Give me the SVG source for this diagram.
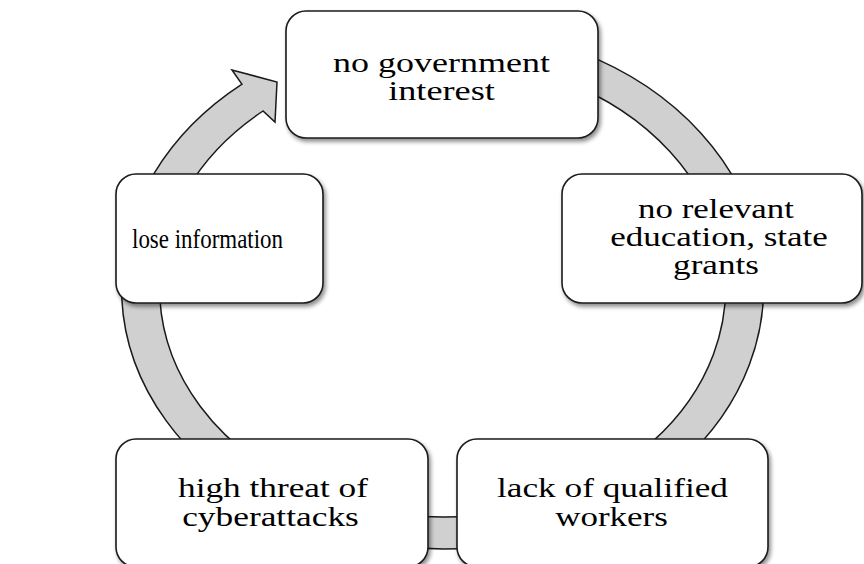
<svg xmlns="http://www.w3.org/2000/svg" width="864" height="564" viewBox="0 0 864 564">
<style>
.box{fill:#ffffff;stroke:#1a1a1a;stroke-width:1.6;filter:url(#sh)}
.ring{fill:#d0d0d0;stroke:#1a1a1a;stroke-width:1.5;stroke-linejoin:miter}
.lbl{font-family:"Liberation Serif","Times New Roman",serif;font-size:27px;fill:#000;text-anchor:middle}
</style>
<defs>
<filter id="sh" x="-10%" y="-10%" width="125%" height="130%">
<feDropShadow dx="2" dy="3" stdDeviation="2" flood-color="#000" flood-opacity="0.45"/>
</filter>
</defs>
<rect width="864" height="564" fill="#ffffff"/>
<g id="connectors">
<path class="ring" d="M 442.5 27 A 321 261 0 1 1 242 84.2 L 232 70 L 277 82 L 275 122 L 263 111 A 283 229 0 1 0 442.5 59 Z"/>
</g>
<g id="node-government">
<rect class="box" x="286" y="11" width="312" height="127" rx="20"/>
<text class="lbl" transform="translate(441.5 72) scale(1.333 1)">no government</text>
<text class="lbl" transform="translate(441.5 100) scale(1.343 1)">interest</text>
</g>
<g id="node-education">
<rect class="box" x="562" y="174" width="300" height="129" rx="20"/>
<text class="lbl" transform="translate(716 218) scale(1.292 1)">no relevant</text>
<text class="lbl" transform="translate(719 246) scale(1.296 1)">education, state</text>
<text class="lbl" transform="translate(716 274) scale(1.301 1)">grants</text>
</g>
<g id="node-workers">
<rect class="box" x="457" y="439" width="311" height="128" rx="20"/>
<text class="lbl" transform="translate(612.5 497) scale(1.306 1)">lack of qualified</text>
<text class="lbl" transform="translate(611.5 526) scale(1.296 1)">workers</text>
</g>
<g id="node-cyber">
<rect class="box" x="116" y="439" width="312" height="128" rx="20"/>
<text class="lbl" transform="translate(273 497) scale(1.306 1)">high threat of</text>
<text class="lbl" transform="translate(270.5 526) scale(1.31 1)">cyberattacks</text>
</g>
<g id="node-lose">
<rect class="box" x="116" y="174" width="207" height="129" rx="20"/>
<text class="lbl" transform="translate(207.5 248) scale(0.85 1)">lose information</text>
</g>
</svg>
